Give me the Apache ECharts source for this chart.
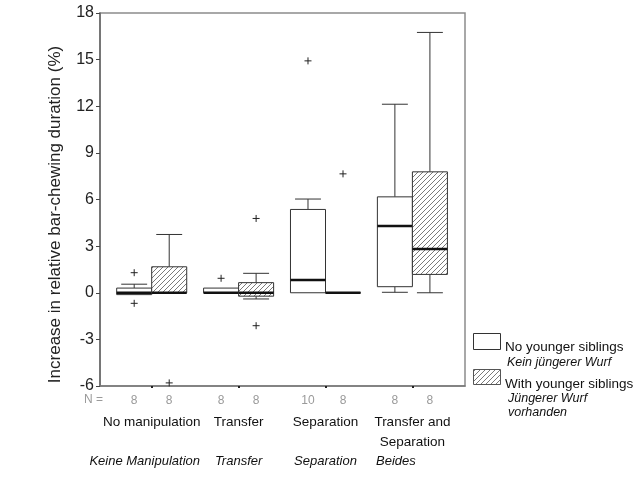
<!DOCTYPE html>
<html>
<head>
<meta charset="utf-8">
<script src="https://cdn.jsdelivr.net/npm/echarts@6/dist/echarts.min.js"></script>
<style>
html,body{margin:0;padding:0;background:#fff;}
#chart{width:634px;height:477px;}
</style>
</head>
<body>
<div id="chart"></div>
<script>
// ---- data ----
const categories = ['No manipulation', 'Transfer', 'Separation', 'Transfer and\nSeparation'];
const categoriesDe = ['Keine Manipulation', 'Transfer', 'Separation', 'Beides'];
const groupNames = ['No younger siblings', 'With younger siblings'];
const groupNamesDe = ['Kein jüngerer Wurf', 'Jüngerer Wurf\nvorhanden'];
// [min, q1, median, q3, max]
const noSiblingsBox = [
  [-0.12, -0.12, 0, 0.3, 0.55],
  [0, 0, 0, 0.3, 0.3],
  [0, 0, 0.82, 5.36, 6.03],
  [0.03, 0.39, 4.29, 6.17, 12.13]
];
const withSiblingsBox = [
  [0, 0, 0, 1.67, 3.75],
  [-0.4, -0.22, 0, 0.65, 1.25],
  [0, 0, 0, 0, 0],
  [0, 1.18, 2.81, 7.78, 16.75]
];
const noSiblingsOutliers = [[1.29, -0.68], [0.93], [14.92], []];
const withSiblingsOutliers = [[-5.8], [4.78, -2.12], [7.65], []];
const noSiblingsN = [8, 8, 10, 8];
const withSiblingsN = [8, 8, 8, 8];
const yMin = -6, yMax = 18, yStep = 3;
const yTitle = 'Increase in relative bar-chewing duration (%)';

// ---- build ----
const hatch = document.createElement('canvas');
hatch.width = 5; hatch.height = 5;
(function(){
  const c = hatch.getContext('2d');
  c.fillStyle = '#fff'; c.fillRect(0,0,5,5);
  c.strokeStyle = '#7a7a7a'; c.lineWidth = 1;
  c.beginPath();
  c.moveTo(-1,6); c.lineTo(6,-1);
  c.moveTo(-1,1); c.lineTo(1,-1);
  c.moveTo(4,6); c.lineTo(6,4);
  c.stroke();
})();
const hatchFill = {image: hatch, repeat: 'repeat'};

const boxData = [], outlierData = [], nData = [];
[noSiblingsBox, withSiblingsBox].forEach((arr, g) => {
  arr.forEach((b, i) => boxData.push([i, g].concat(b)));
});
[noSiblingsOutliers, withSiblingsOutliers].forEach((arr, g) => {
  arr.forEach((vals, i) => vals.forEach(v => outlierData.push([i, g, v])));
});
[noSiblingsN, withSiblingsN].forEach((arr, g) => {
  arr.forEach((n, i) => nData.push([i, g, n]));
});

function boxGeom(api, cat, g) {
  const band = api.size([1, 0])[0];
  const w = band * 0.403;
  const cx = api.coord([cat, 0])[0];
  const x0 = g === 0 ? cx - w : cx;
  return {x0: x0, w: w, xm: x0 + w / 2};
}

function renderBox(params, api) {
  const cat = api.value(0), g = api.value(1);
  const geo = boxGeom(api, cat, g);
  const y = v => api.coord([cat, v])[1];
  const mn = api.value(2), q1 = api.value(3), md = api.value(4), q3 = api.value(5), mx = api.value(6);
  const cap = geo.w * 0.74;
  const st = {stroke: '#333', lineWidth: 1};
  const ch = [];
  if (mx > q3) {
    ch.push({type: 'line', shape: {x1: geo.xm, y1: y(q3), x2: geo.xm, y2: y(mx)}, style: st});
    ch.push({type: 'line', shape: {x1: geo.xm - cap/2, y1: y(mx), x2: geo.xm + cap/2, y2: y(mx)}, style: st});
  }
  if (mn < q1) {
    ch.push({type: 'line', shape: {x1: geo.xm, y1: y(q1), x2: geo.xm, y2: y(mn)}, style: st});
    ch.push({type: 'line', shape: {x1: geo.xm - cap/2, y1: y(mn), x2: geo.xm + cap/2, y2: y(mn)}, style: st});
  }
  ch.push({type: 'rect', shape: {x: geo.x0, y: y(q3), width: geo.w, height: y(q1) - y(q3)},
    style: {fill: g === 0 ? '#fff' : hatchFill, stroke: '#333', lineWidth: 1}});
  ch.push({type: 'line', shape: {x1: geo.x0, y1: y(md), x2: geo.x0 + geo.w, y2: y(md)},
    style: {stroke: '#111', lineWidth: 2.5}});
  return {type: 'group', children: ch};
}

function renderOutlier(params, api) {
  const cat = api.value(0), g = api.value(1);
  const geo = boxGeom(api, cat, g);
  const yy = api.coord([cat, api.value(2)])[1];
  const s = 3.5;
  return {type: 'group', children: [
    {type: 'line', shape: {x1: geo.xm - s, y1: yy, x2: geo.xm + s, y2: yy}, style: {stroke: '#222', lineWidth: 1}},
    {type: 'line', shape: {x1: geo.xm, y1: yy - s, x2: geo.xm, y2: yy + s}, style: {stroke: '#222', lineWidth: 1}}
  ]};
}

function renderN(params, api) {
  const cat = api.value(0), g = api.value(1);
  const geo = boxGeom(api, cat, g);
  const yy = api.coord([cat, yMin])[1] + 15;
  return {type: 'text', style: {text: String(api.value(2)), x: geo.xm, y: yy,
    align: 'center', verticalAlign: 'middle', fill: '#9a9a9a', font: '12px "Liberation Sans", Arial'}};
}

const FONT = '"Liberation Sans", Arial, sans-serif';

const option = {
  animation: false,
  backgroundColor: '#fff',
  grid: [
    {left: 100, right: 169, top: 13, bottom: 91, show: true, borderColor: '#8c8c8c', borderWidth: 1.5, backgroundColor: 'transparent'},
    {left: 108.25, right: 178.15, top: 13, bottom: 91}
  ],
  xAxis: [
    {gridIndex: 0, type: 'value', min: 0, max: 1, axisLine: {show: true, onZero: false, lineStyle: {color: '#777', width: 1.5}},
     axisTick: {show: false}, axisLabel: {show: false}, splitLine: {show: false}},
    {gridIndex: 1, type: 'category', data: categories,
     axisLine: {show: false, onZero: false},
     axisTick: {show: true, alignWithLabel: true, length: 2, lineStyle: {color: '#222', width: 2}},
     axisLabel: {
       interval: 0, margin: 27, fontFamily: FONT,
       formatter: function (val, idx) {
         const parts = categories[idx].split('\n');
         const l1 = '{en|' + parts[0] + '}';
         const l2 = parts.length > 1 ? '{en|' + parts[1] + '}' : '{en| }';
         const deStyle = idx === 0 ? 'de0' : (idx === 3 ? 'de3' : 'de');
         return l1 + '\n' + l2 + '\n{' + deStyle + '|' + categoriesDe[idx] + '}';
       },
       rich: {
         en: {fontSize: 13.5, lineHeight: 19.5, color: '#111', fontFamily: FONT},
         de: {fontSize: 13, lineHeight: 19.5, color: '#111', fontStyle: 'italic', fontFamily: FONT},
         de0: {fontSize: 13, lineHeight: 19.5, color: '#111', fontStyle: 'italic', fontFamily: FONT, padding: [0, 14, 0, 0]},
         de3: {fontSize: 13, lineHeight: 19.5, color: '#111', fontStyle: 'italic', fontFamily: FONT, padding: [0, 33, 0, 0]}
       }
     },
     splitLine: {show: false}}
  ],
  yAxis: [
    {gridIndex: 0, type: 'value', min: yMin, max: yMax, interval: yStep,
     name: yTitle, nameLocation: 'middle', nameGap: 36,
     nameTextStyle: {fontSize: 17, color: '#222', fontFamily: FONT, padding: [0, 30, 0, 0]},
     axisLine: {show: true, lineStyle: {color: '#666', width: 1.5}},
     axisTick: {show: true, length: 4, lineStyle: {color: '#444'}},
     axisLabel: {fontSize: 16, color: '#222', fontFamily: FONT, margin: 6},
     splitLine: {show: false}},
    {gridIndex: 1, type: 'value', min: yMin, max: yMax, interval: yStep, show: false, splitLine: {show: false}}
  ],
  series: [
    {type: 'custom', xAxisIndex: 1, yAxisIndex: 1, data: boxData, renderItem: renderBox, encode: {x: 0, y: [2, 6]}},
    {type: 'custom', xAxisIndex: 1, yAxisIndex: 1, data: outlierData, renderItem: renderOutlier, encode: {x: 0, y: 2}},
    {type: 'custom', xAxisIndex: 1, yAxisIndex: 1, data: nData, renderItem: renderN, encode: {x: 0}, clip: false}
  ],
  graphic: [
    {type: 'text', left: 84, top: 394, style: {text: 'N =', fill: '#9a9a9a', font: '12px ' + FONT}},
    {type: 'rect', shape: {x: 473.5, y: 333.5, width: 27, height: 16}, style: {fill: '#fff', stroke: '#333', lineWidth: 1}},
    {type: 'text', style: {text: groupNames[0], x: 505, y: 347, verticalAlign: 'middle', fill: '#111', font: '13.5px ' + FONT}},
    {type: 'text', style: {text: groupNamesDe[0], x: 507, y: 363, verticalAlign: 'middle', fill: '#111', font: 'italic 12.5px ' + FONT}},
    {type: 'rect', shape: {x: 473.5, y: 369.5, width: 27, height: 15}, style: {fill: hatchFill, stroke: '#555', lineWidth: 1}},
    {type: 'text', style: {text: groupNames[1], x: 505, y: 384, verticalAlign: 'middle', fill: '#111', font: '13.5px ' + FONT}},
    {type: 'text', style: {text: groupNamesDe[1], x: 508, y: 391, verticalAlign: 'top', lineHeight: 14.5, fill: '#111', font: 'italic 12.5px ' + FONT}}
  ]
};

const chart = echarts.init(document.getElementById('chart'), null, {renderer: 'canvas'});
chart.setOption(option);
</script>
</body>
</html>
